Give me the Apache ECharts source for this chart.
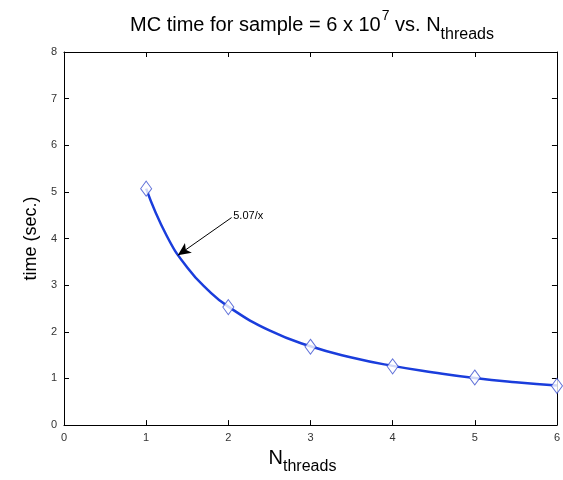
<!DOCTYPE html>
<html>
<head>
<meta charset="utf-8">
<script src="https://cdn.jsdelivr.net/npm/echarts@6/dist/echarts.min.js"></script>
<style>
  html, body { margin: 0; padding: 0; background: #fff; }
  #main { width: 563px; height: 480px; }
</style>
</head>
<body>
<div id="main"></div>
<script>
// measured timings (diamonds)
var threads = [1, 2, 3, 4, 5, 6];
var times = [5.07, 2.53, 1.68, 1.26, 1.02, 0.84];
// fitted curve as drawn
var fitX = [1, 1.25, 1.5, 1.75, 2, 2.5, 3, 3.5, 4, 4.5, 5, 5.5, 6];
var fitY = [5.07, 4.06, 3.38, 2.90, 2.54, 2.03, 1.69, 1.45, 1.27, 1.13, 1.01, 0.92, 0.85];
// annotation arrow: text end -> tip
var arrowFrom = [2.04, 4.45];
var arrowTo = [1.385, 3.64];
var fitLabel = '5.07/x';

var font = '"Liberation Sans", Arial, Helvetica, sans-serif';
var myChart = echarts.init(document.getElementById('main'));

function zip(a, b) {
    return a.map(function (v, i) { return [v, b[i]]; });
}

function boxAxis() {
    return {
        axisLine: { show: true, onZero: false, lineStyle: { color: '#000', width: 1 } },
        axisTick: { show: true, inside: true, length: 5, lineStyle: { color: '#000' } },
        splitLine: { show: false }
    };
}

myChart.setOption({
    backgroundColor: '#fff',
    animation: false,
    title: {
        text: '{m|MC time for sample = 6 x 10}{sup|7}{m| vs. N}{sub|threads}',
        left: 307,
        textAlign: 'center',
        top: 14,
        textStyle: {
            rich: {
                m: { fontFamily: font, fontSize: 20, fontWeight: 'normal', color: '#000', verticalAlign: 'bottom', lineHeight: 24, padding: [0, 0, 8, 0] },
                sup: { fontFamily: font, fontSize: 14, fontWeight: 'normal', color: '#000', verticalAlign: 'bottom', lineHeight: 16, padding: [0, 0, 20, 1] },
                sub: { fontFamily: font, fontSize: 16, fontWeight: 'normal', color: '#000', verticalAlign: 'bottom', lineHeight: 24 }
            }
        }
    },
    grid: { left: 64, right: 5, top: 52, bottom: 52 },
    xAxis: [
        Object.assign(boxAxis(), {
            type: 'value', min: 0, max: 6, interval: 1,
            name: '{n|N}{s|threads}',
            nameLocation: 'middle',
            nameGap: 24,
            nameTextStyle: {
                padding: [0, 16, 0, 0],
                rich: {
                    n: { fontFamily: font, fontSize: 20, color: '#000', verticalAlign: 'bottom', lineHeight: 22, padding: [0, 0, 7, 0] },
                    s: { fontFamily: font, fontSize: 16, color: '#000', verticalAlign: 'bottom', lineHeight: 22 }
                }
            },
            axisLabel: { fontFamily: font, fontSize: 11, color: '#333', margin: 7 }
        }),
        Object.assign(boxAxis(), {
            type: 'value', min: 0, max: 6, interval: 1, position: 'top',
            axisLabel: { show: false }
        })
    ],
    yAxis: [
        Object.assign(boxAxis(), {
            type: 'value', min: 0, max: 8, interval: 1,
            name: 'time (sec.)',
            nameLocation: 'middle',
            nameGap: 20,
            nameTextStyle: { fontFamily: font, fontSize: 18, color: '#000' },
            axisLabel: { fontFamily: font, fontSize: 11, color: '#333', margin: 7 }
        }),
        Object.assign(boxAxis(), {
            type: 'value', min: 0, max: 8, interval: 1, position: 'right',
            axisLabel: { show: false }
        })
    ],
    series: [
        {
            type: 'line',
            data: zip(fitX, fitY),
            smooth: true,
            showSymbol: false,
            lineStyle: { color: '#1a3ddc', width: 2.5 },
            z: 2,
            markLine: {
                silent: true,
                symbol: ['none', 'arrow'],
                symbolSize: [9, 13],
                lineStyle: { color: '#000', width: 1, type: 'solid' },
                label: {
                    show: true,
                    position: 'start',
                    formatter: fitLabel,
                    fontFamily: font,
                    fontSize: 11,
                    color: '#000',
                    distance: 2
                },
                data: [[{ coord: arrowFrom }, { coord: arrowTo }]]
            }
        },
        {
            type: 'scatter',
            data: zip(threads, times),
            symbol: 'diamond',
            symbolSize: [11, 15],
            itemStyle: { color: '#fff', borderColor: '#3a4fd0', borderWidth: 1 },
            z: 3
        }
    ]
});
</script>
</body>
</html>
